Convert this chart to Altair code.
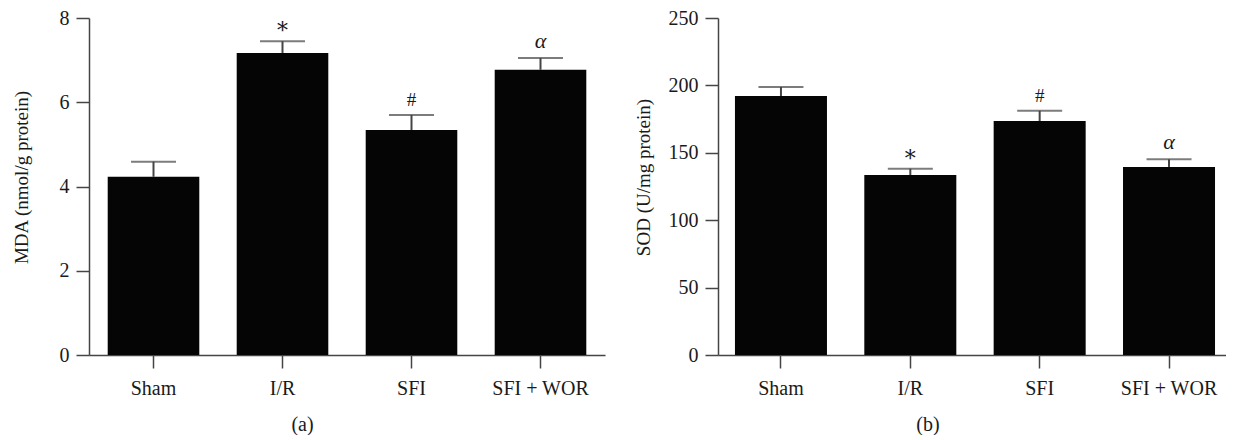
import altair as alt
import pandas as pd

groups = ["Sham", "I/R", "SFI", "SFI + WOR"]
mda_mean = [4.23, 7.17, 5.34, 6.77]
mda_upper = [4.59, 7.45, 5.70, 7.05]
sod_mean = [192.1, 133.5, 173.6, 139.5]
sod_upper = [198.8, 138.2, 181.2, 145.2]
sig_marks = ["", "*", "#", "α"]

SERIF = "Liberation Serif"
BAR = "#050505"
LINE = "#454545"
TEXT = "#1a1a1a"
FS = 20


def panel(mean, upper, ytitle, ymax, ystep, label, width, pi, po, align, title_x, title_dx):
    df = pd.DataFrame({"group": groups, "mean": mean, "upper": upper,
                       "mark": sig_marks})
    xs = alt.Scale(paddingInner=pi, paddingOuter=po, align=align)
    xax = alt.Axis(title=None, labelAngle=0, tickSize=13, labelPadding=10,
                   labelFont=SERIF, labelFontSize=FS, labelColor=TEXT,
                   domainColor=LINE, tickColor=LINE, domainWidth=1.5, tickWidth=1.5,
                   grid=False)
    ysc = alt.Scale(domain=[0, ymax], nice=False)
    yax = alt.Axis(values=list(range(0, ymax + 1, ystep)), title=ytitle,
                   titleX=title_x, titleY=159, titleFont=SERIF, titleFontSize=19,
                   titleFontWeight="normal", titleColor=TEXT,
                   tickSize=13, labelPadding=7, labelFont=SERIF, labelFontSize=FS,
                   labelColor=TEXT, domainColor=LINE, tickColor=LINE,
                   domainWidth=1.5, tickWidth=1.5, grid=False)
    x = alt.X("group:N", sort=groups, scale=xs, axis=xax)
    yu = alt.Y("upper:Q", title=ytitle)
    base = alt.Chart(df)
    bars = base.mark_bar(color=BAR).encode(
        x=x, y=alt.Y("mean:Q", scale=ysc, axis=yax, title=ytitle))
    err = base.mark_rule(color=LINE, strokeWidth=2).encode(
        x=x, y=alt.Y("mean:Q", title=ytitle), y2="upper:Q")
    cap = base.mark_tick(color=LINE, thickness=2, size=45).encode(x=x, y=yu)
    star = base.transform_filter("datum.mark == '*'").mark_text(
        font="DejaVu Serif", fontSize=22, color=TEXT, baseline="alphabetic", dy=-3
    ).encode(x=x, y=yu, text="mark:N")
    hsh = base.transform_filter("datum.mark == '#'").mark_text(
        font=SERIF, fontSize=19, color=TEXT, baseline="alphabetic", dy=-9
    ).encode(x=x, y=yu, text="mark:N")
    alpha = base.transform_filter("datum.mark == 'α'").mark_text(
        font=SERIF, fontSize=22, fontStyle="italic", color=TEXT,
        baseline="alphabetic", dy=-10
    ).encode(x=x, y=yu, text="mark:N")
    return alt.layer(bars, err, cap, star, hsh, alpha).properties(
        width=width, height=337,
        title=alt.TitleParams(label, orient="bottom", anchor="middle", frame="bounds",
                              dx=title_dx, offset=17, font=SERIF, fontSize=FS,
                              fontWeight="normal", color=TEXT))


left = panel(mda_mean, mda_upper, "MDA (nmol/g protein)", 8, 2, "(a)",
             516, 0.29, 0.145, 0.5, -58, -6)
right = panel(sod_mean, sod_upper, "SOD (U/mg protein)", 250, 50, "(b)",
              508, 0.2887, 0.108, 0.607, -65, -2)

chart = alt.hconcat(left, right, spacing=29).properties(
    padding={"left": 4, "right": 0, "top": 0, "bottom": 0}
).configure_view(stroke=None)

chart.save("out.html", embed_options={"renderer": "svg", "actions": False})
